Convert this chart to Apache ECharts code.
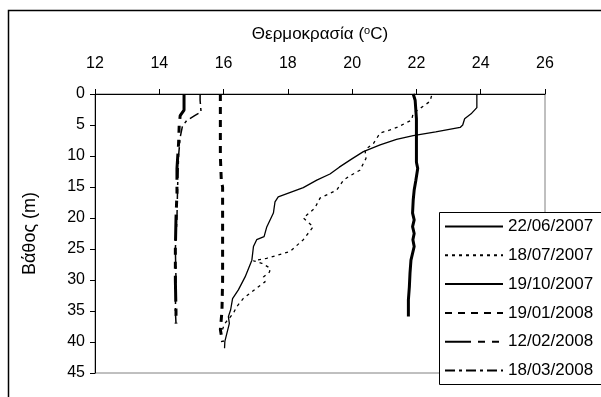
<!DOCTYPE html>
<html><head><meta charset="utf-8">
<script src="https://cdn.jsdelivr.net/npm/echarts@6/dist/echarts.min.js"></script>
<style>html,body{margin:0;padding:0;background:#fff}#c{width:601px;height:397px}</style>
</head><body><div id="c"></div>
<script>
const xTicks = [12, 14, 16, 18, 20, 22, 24, 26];
const yTicks = [0, 5, 10, 15, 20, 25, 30, 35, 40, 45];
const seriesNames = ['22/06/2007', '18/07/2007', '19/10/2007', '19/01/2008', '12/02/2008', '18/03/2008'];

const temp_220607 = [23.88,23.88,23.7,23.5,23.44,23.36,22.6,21.9,21.38,20.87,20.35,19.98,19.6,19.31,18.9,18.48,17.7,17.6,17.55,17.34,17.26,17.03,16.93,16.88,16.67,16.46,16.28,16.22,16.15,16.18,16.04,16.03];
const depth_220607 = [0,2.2,3.2,4.0,5.0,5.4,6.1,6.7,7.3,8.2,9.3,10.5,11.8,12.9,13.9,15.1,16.6,17.4,19.2,21.5,23.0,23.5,24.6,26.8,29.5,31.6,33.0,34.8,35.9,37.0,39.9,41.0];

const temp_180707 = [22.47,22.42,21.9,21.85,21.39,21.18,20.87,20.66,20.40,20.43,20.24,19.93,19.73,19.52,19.0,18.84,18.48,18.79,18.48,18.07,17.34,16.93,17.19,17.45,17.43,17.24,17.29,17.03,16.61,16.41,16.3,16.04,15.94];
const depth_180707 = [0.3,1.2,3.1,4.2,5.4,5.8,6.3,8.0,9.0,10.4,12.3,13.2,13.9,15.5,16.8,18.4,20.0,21.4,23.5,25.4,26.5,26.9,27.3,28.1,28.7,29.5,30.3,31.3,33.0,34.3,35.4,37.0,38.3];

const temp_191007 = [21.9,21.96,22.0,22.0,22.04,21.98,21.93,21.9,21.88,21.93,21.88,21.93,21.89,21.93,21.83,21.8,21.78,21.75,21.75];
const depth_191007 = [0,1,4,11,12,14,15.5,17.1,19.2,20.3,21.4,22.5,23.5,24.6,26.8,28.9,31.1,33.2,35.9];

const temp_190108 = [15.9,15.9,15.9,15.93,15.97,15.97,15.97,15.97,15.95,15.9,15.95,15.97];
const depth_190108 = [0,5,10,14,15,20,25,30,35,38,39.5,40];

const temp_120208 = [14.77,14.77,14.65,14.62,14.6,14.55,14.55,14.52,14.5,14.5,14.52,14.52];
const depth_120208 = [0,2.6,3.5,5,8,12,16,20,25,30,35,37];

const temp_180308 = [15.27,15.27,15.3,15.1,14.85,14.72,14.65,14.6,14.57,14.55,14.5,14.52,14.5,14.52];
const depth_180308 = [0,1,2.9,3.5,4.3,5.2,7,10,15,20,25,30,35,37];

function pairs(t, d) { return t.map((v, i) => [v, d[i]]); }

const styles = [
  { width: 1.3, type: 'solid' },
  { width: 1.3, type: [3, 4] },
  { width: 3, type: 'solid' },
  { width: 3, type: [7, 6] },
  { width: 3, type: [26, 7, 7, 7, 7, 7] },
  { width: 1.5, type: [10, 4, 3, 4] }
];
const datasets = [
  pairs(temp_220607, depth_220607),
  pairs(temp_180707, depth_180707),
  pairs(temp_191007, depth_191007),
  pairs(temp_190108, depth_190108),
  pairs(temp_120208, depth_120208),
  pairs(temp_180308, depth_180308)
];

const FONT = 'Liberation Sans, Arial, sans-serif';
const chart = echarts.init(document.getElementById('c'), null, { renderer: 'canvas' });
chart.setOption({
  animation: false,
  backgroundColor: '#fff',
  textStyle: { fontFamily: FONT },
  grid: { left: 95, right: 56, top: 94, bottom: 24, show: true, borderColor: '#808080', borderWidth: 1, backgroundColor: 'transparent' },
  xAxis: {
    type: 'value', position: 'top', min: xTicks[0], max: xTicks[xTicks.length - 1], interval: 2,
    name: 'Θερμοκρασία ({sup|o}C)', nameLocation: 'middle', nameGap: 51,
    nameTextStyle: { fontSize: 17, color: '#000', fontFamily: FONT, rich: { sup: { fontSize: 11, verticalAlign: 'top', padding: [0, 0, 7, 0], color: '#000', fontFamily: FONT } } },
    axisLine: { show: true, lineStyle: { color: '#000', width: 1 } },
    axisTick: { show: true, inside: false, length: 5, lineStyle: { color: '#000' } },
    axisLabel: { fontSize: 16, color: '#000', margin: 22, fontFamily: FONT },
    splitLine: { show: false }
  },
  yAxis: {
    type: 'value', inverse: true, min: yTicks[0], max: yTicks[yTicks.length - 1], interval: 5,
    name: 'Βάθος (m)', nameLocation: 'middle', nameGap: 56, nameRotate: 90,
    nameTextStyle: { fontSize: 18, color: '#000', fontFamily: FONT },
    axisLine: { show: true, lineStyle: { color: '#000', width: 1 } },
    axisTick: { show: true, inside: false, length: 5, lineStyle: { color: '#000' } },
    axisLabel: { fontSize: 16, color: '#000', margin: 10, fontFamily: FONT },
    splitLine: { show: false }
  },
  graphic: [
    { type: 'rect', z: 0, silent: true, shape: { x: 8.5, y: 10.5, width: 700, height: 500 }, style: { fill: 'transparent', stroke: '#000', lineWidth: 1.5 } },
    { type: 'rect', z: 50, silent: true, shape: { x: 439.5, y: 212.5, width: 300, height: 172 }, style: { fill: '#fff', stroke: '#000', lineWidth: 1 } }
  ],
  legend: {
    z: 60, orient: 'vertical', left: 444, top: 218, padding: 0,
    itemWidth: 58, itemHeight: 17, itemGap: 11.8,
    itemStyle: { opacity: 0, borderWidth: 0 },
    textStyle: { fontSize: 17, color: '#000', fontFamily: FONT, lineHeight: 17 },
    data: seriesNames
  },
  series: seriesNames.map((n, i) => ({
    name: n, type: 'line', data: datasets[i], symbol: 'none', showSymbol: false,
    lineStyle: { color: '#000', width: styles[i].width, type: styles[i].type },
    itemStyle: { color: '#000' },
    z: 3
  }))
});
</script></body></html>
